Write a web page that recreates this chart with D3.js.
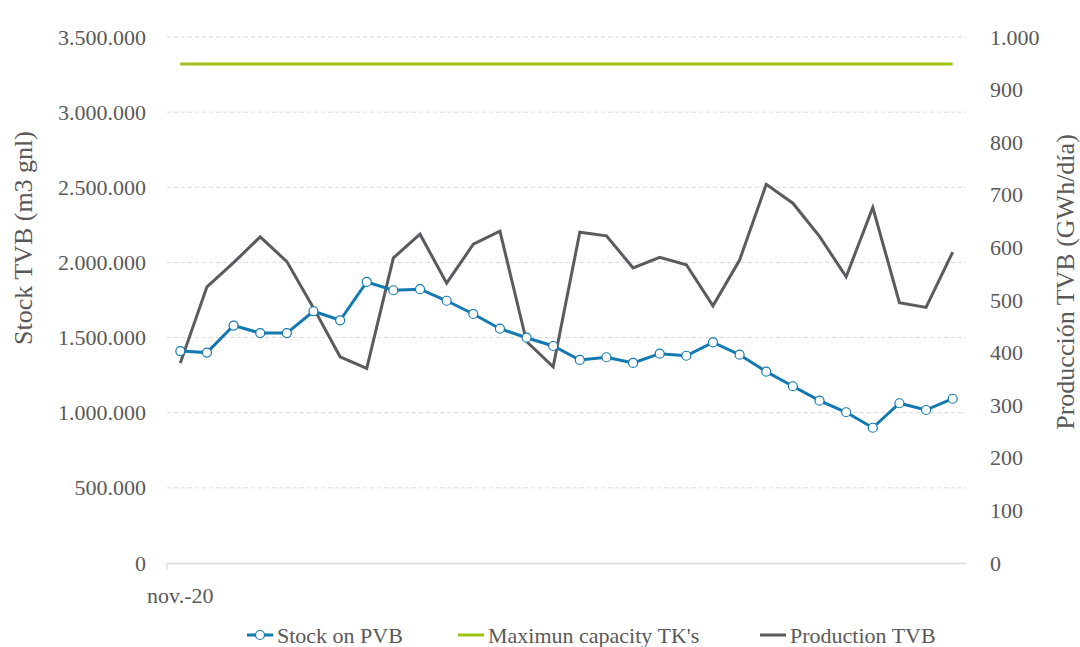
<!DOCTYPE html>
<html>
<head>
<meta charset="utf-8">
<script src="https://cdn.jsdelivr.net/npm/d3@7"></script>
<style>
  body { margin: 0; background: #fff; }
  svg text { font-family: "Liberation Serif", "Times New Roman", serif; fill: #595959; }
</style>
</head>
<body>
<svg id="chart" width="1080" height="647" font-family="Liberation Serif"></svg>
<script>
'use strict';

// weekly points starting nov.-20
const weeks = d3.range(1, 31);
const xTickLabels = [{ week: 1, label: 'nov.-20' }];

// Stock on PVB (m3 gnl), left axis
const stockPVB = [
  1410000, 1400000, 1580000, 1530000, 1530000, 1675000, 1615000, 1870000, 1815000, 1822000,
  1745000, 1657000, 1559000, 1499000, 1444000, 1351000, 1369000, 1331000, 1393000, 1379000,
  1468000, 1386000, 1273000, 1176000, 1080000, 1003000, 900000, 1063000, 1018000, 1093000
];

// Production TVB (GWh/dia), right axis
const productionTVB = [
  380, 525, 571, 620, 573, 485, 392, 370, 580, 625,
  532, 606, 631, 421, 373, 629, 622, 561, 581, 567,
  489, 576, 720, 684, 621, 544, 676, 495, 486, 591
];

// Maximun capacity TK's (m3 gnl), flat line on left axis
const maxCapacity = 3320000;

const leftTicks = [0, 500000, 1000000, 1500000, 2000000, 2500000, 3000000, 3500000];
const rightTicks = [0, 100, 200, 300, 400, 500, 600, 700, 800, 900, 1000];

const legendItems = [
  { name: 'Stock on PVB', color: '#1479b0', marker: true, x: 247 },
  { name: "Maximun capacity TK's", color: '#9dc312', marker: false, x: 458 },
  { name: 'Production TVB', color: '#5b5b5f', marker: false, x: 760 }
];

const FONT = '"Liberation Serif", "Times New Roman", serif';
const TEXT_COLOR = '#595959';

const svg = d3.select('#chart');
const plot = { left: 167, right: 966, top: 37, bottom: 563 };

// es-ES style thousands separator
const fmt = d3.formatLocale({ decimal: ',', thousands: '.', grouping: [3], currency: ['', '€'] }).format(',d');

const x = d3.scaleBand().domain(weeks).range([plot.left, plot.right]);
const xc = d => x(d) + x.bandwidth() / 2;
const yLeft = d3.scaleLinear().domain([0, 3500000]).range([plot.bottom, plot.top]);
const yRight = d3.scaleLinear().domain([0, 1000]).range([plot.bottom, plot.top]);

function styleText(sel, size) {
  sel.style('font-family', FONT)
    .style('font-size', size)
    .style('fill', TEXT_COLOR);
}

// gridlines
svg.append('g')
  .selectAll('line')
  .data(leftTicks.filter(t => t > 0))
  .join('line')
  .attr('x1', plot.left).attr('x2', plot.right)
  .attr('y1', d => yLeft(d)).attr('y2', d => yLeft(d))
  .attr('stroke', '#d9d9d9')
  .attr('stroke-width', 1)
  .attr('stroke-dasharray', '4,3');

// left axis labels
const leftAxis = svg.append('g')
  .attr('transform', `translate(146,0)`)
  .call(d3.axisLeft(yLeft).tickValues(leftTicks).tickFormat(fmt).tickSize(0).tickPadding(0));
leftAxis.attr('font-family', null).attr('font-size', null);
leftAxis.select('.domain').remove();
leftAxis.selectAll('text').call(styleText, '22px');

// right axis labels
const rightAxis = svg.append('g')
  .attr('transform', `translate(990,0)`)
  .call(d3.axisRight(yRight).tickValues(rightTicks).tickFormat(fmt).tickSize(0).tickPadding(0));
rightAxis.attr('font-family', null).attr('font-size', null);
rightAxis.select('.domain').remove();
rightAxis.selectAll('text').call(styleText, '22px');

// bottom axis
const bottomAxis = svg.append('g')
  .attr('transform', `translate(0,${plot.bottom})`)
  .call(d3.axisBottom(x).tickValues([]).tickSizeOuter(0));
bottomAxis.attr('font-family', null).attr('font-size', null);
bottomAxis.select('.domain')
  .attr('stroke', '#d9d9d9')
  .attr('stroke-width', 1.3);
bottomAxis.append('line')
  .attr('x1', plot.left).attr('x2', plot.left)
  .attr('y1', 0).attr('y2', 7)
  .attr('stroke', '#d9d9d9')
  .attr('stroke-width', 1.3);
bottomAxis.selectAll('.xlabel')
  .data(xTickLabels)
  .join('text')
  .attr('class', 'xlabel')
  .attr('x', d => xc(d.week))
  .attr('y', 40)
  .attr('text-anchor', 'middle')
  .call(styleText, '22px')
  .text(d => d.label);

// axis titles
svg.append('text')
  .attr('transform', 'translate(32,238) rotate(-90)')
  .attr('text-anchor', 'middle')
  .call(styleText, '26px')
  .text('Stock TVB (m3 gnl)');

svg.append('text')
  .attr('transform', 'translate(1074,282) rotate(-90)')
  .attr('text-anchor', 'middle')
  .call(styleText, '26px')
  .text('Producción TVB (GWh/día)');

// max capacity line
svg.append('line')
  .attr('x1', xc(weeks[0])).attr('x2', xc(weeks[weeks.length - 1]))
  .attr('y1', yLeft(maxCapacity)).attr('y2', yLeft(maxCapacity))
  .attr('stroke', legendItems[1].color)
  .attr('stroke-width', 3);

// production line
svg.append('path')
  .datum(productionTVB)
  .attr('fill', 'none')
  .attr('stroke', legendItems[2].color)
  .attr('stroke-width', 3)
  .attr('d', d3.line().x((d, i) => xc(weeks[i])).y(d => yRight(d)));

// stock line
svg.append('path')
  .datum(stockPVB)
  .attr('fill', 'none')
  .attr('stroke', legendItems[0].color)
  .attr('stroke-width', 3)
  .attr('d', d3.line().x((d, i) => xc(weeks[i])).y(d => yLeft(d)));

svg.append('g')
  .selectAll('circle')
  .data(stockPVB)
  .join('circle')
  .attr('cx', (d, i) => xc(weeks[i]))
  .attr('cy', d => yLeft(d))
  .attr('r', 4.5)
  .attr('fill', '#fff')
  .attr('stroke', legendItems[0].color)
  .attr('stroke-width', 1.2);

// legend
const legend = svg.append('g').attr('transform', 'translate(0,635)');
const item = legend.selectAll('g')
  .data(legendItems)
  .join('g')
  .attr('transform', d => `translate(${d.x},0)`);
item.append('line')
  .attr('x1', 0).attr('x2', 26)
  .attr('stroke', d => d.color)
  .attr('stroke-width', 3);
item.filter(d => d.marker)
  .append('circle')
  .attr('cx', 13).attr('r', 4.5)
  .attr('fill', '#fff')
  .attr('stroke', d => d.color)
  .attr('stroke-width', 1.2);
item.append('text')
  .attr('x', 30)
  .attr('dy', '0.35em')
  .call(styleText, '22px')
  .text(d => d.name);
</script>
</body>
</html>
